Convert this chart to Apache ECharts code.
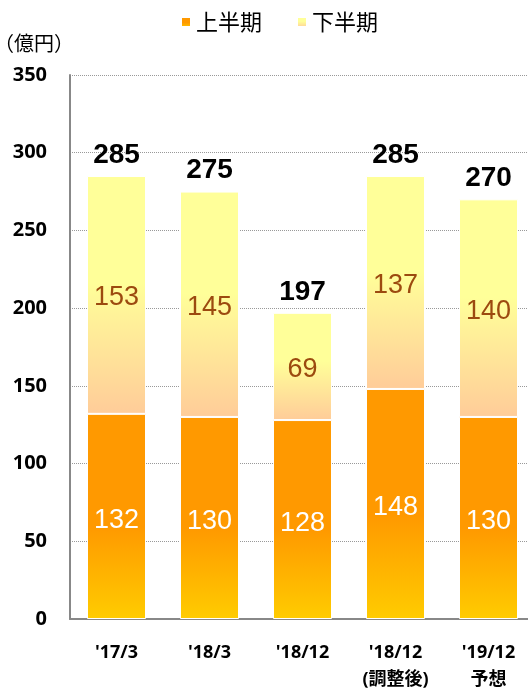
<!DOCTYPE html>
<html>
<head>
<meta charset="utf-8" />
<title>上半期・下半期</title>
<script src="https://cdn.jsdelivr.net/npm/echarts@6/dist/echarts.min.js"></script>
<style>
  html, body { margin: 0; padding: 0; background: #fff; }
  #main { width: 528px; height: 689px; }
</style>
</head>
<body>
<div id="main"></div>
<script type="text/javascript">
    var categories = ["'17/3", "'18/3", "'18/12", "'18/12\n(調整後)", "'19/12\n予想"];
    var firstHalf = [132, 130, 128, 148, 130];
    var secondHalf = [153, 145, 69, 137, 140];
    var totals = [285, 275, 197, 285, 270];
    var yTicks = [0, 50, 100, 150, 200, 250, 300, 350];

    var jpFont = '"Noto Sans CJK JP", sans-serif';
    var numFont = '"Liberation Sans", Arial, sans-serif';
    var axisFont = '"Open Sans", "Noto Sans CJK JP", sans-serif';

    var myChart = echarts.init(document.getElementById('main'));

    // 上半期：オレンジ → 黄色
    var lowerColor = new echarts.graphic.LinearGradient(0, 0, 0, 1, [
        {offset: 0, color: '#FF9900'},
        {offset: 0.55, color: '#FF9900'},
        {offset: 1, color: '#FFCC00'}
    ]);
    // 下半期：薄黄 → 薄オレンジ
    var upperColor = new echarts.graphic.LinearGradient(0, 0, 0, 1, [
        {offset: 0, color: '#FFFF99'},
        {offset: 0.45, color: '#FFFF99'},
        {offset: 1, color: '#FFCC99'}
    ]);

    var option = {
        animation: false,
        textStyle: {fontFamily: numFont},
        legend: {
            top: 6,
            left: 175,
            itemWidth: 10,
            itemHeight: 10,
            itemGap: 34,
            icon: 'rect',
            textStyle: {fontFamily: jpFont, fontSize: 22, color: '#000'},
            data: ['上半期', '下半期']
        },
        grid: {
            left: 70,
            right: -7,
            top: 75,
            bottom: 70,
            containLabel: false,
            outerBoundsMode: 'none'
        },
        xAxis: {
            type: 'category',
            data: categories,
            axisLine: {lineStyle: {color: '#888', width: 2}},
            axisTick: {show: false},
            axisLabel: {
                margin: 20,
                fontFamily: axisFont,
                fontWeight: 'bold',
                fontSize: 18,
                lineHeight: 27,
                color: '#000'
            }
        },
        yAxis: {
            type: 'value',
            min: yTicks[0],
            max: yTicks[yTicks.length - 1],
            interval: 50,
            name: '（億円）',
            nameLocation: 'end',
            nameGap: 22,
            nameTextStyle: {fontFamily: jpFont, fontSize: 20, color: '#000', align: 'left', padding: [0, 0, 0, -76]},
            axisLine: {show: true, lineStyle: {color: '#888', width: 2}},
            axisTick: {show: false},
            axisLabel: {
                margin: 23,
                fontFamily: axisFont,
                fontWeight: 'bold',
                fontSize: 20,
                color: '#000'
            },
            splitLine: {lineStyle: {color: '#999', type: 'dotted', width: 1}}
        },
        series: [
            {
                name: '上半期',
                type: 'bar',
                stack: 'total',
                barWidth: 59,
                data: firstHalf,
                itemStyle: {color: lowerColor, borderColor: '#fff', borderWidth: 1},
                label: {
                    show: true,
                    position: 'inside',
                    offset: [0, 4],
                    fontFamily: numFont,
                    fontSize: 27,
                    color: '#fff'
                }
            },
            {
                name: '下半期',
                type: 'bar',
                stack: 'total',
                barWidth: 59,
                data: secondHalf,
                itemStyle: {color: upperColor, borderColor: '#fff', borderWidth: 1},
                label: {
                    show: true,
                    position: 'inside',
                    offset: [0, 3],
                    fontFamily: numFont,
                    fontSize: 27,
                    color: '#9C4A0F'
                }
            },
            {
                name: '合計',
                type: 'bar',
                barWidth: 59,
                barGap: '-100%',
                z: 1,
                data: totals,
                itemStyle: {color: 'rgba(0,0,0,0)'},
                emphasis: {disabled: true},
                label: {
                    show: true,
                    position: 'top',
                    distance: 7,
                    fontFamily: numFont,
                    fontWeight: 'bold',
                    fontSize: 28,
                    color: '#000'
                }
            }
        ]
    };

    myChart.setOption(option);
</script>
</body>
</html>
